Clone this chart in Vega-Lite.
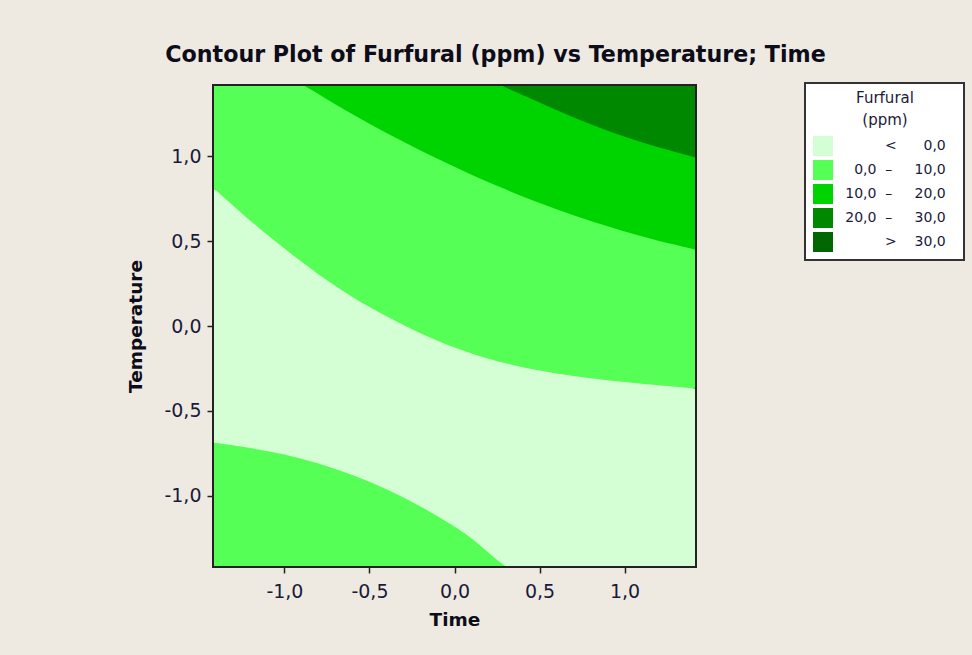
{
  "$schema": "https://vega.github.io/schema/vega-lite/v6.json",
  "width": 481,
  "height": 480,
  "autosize": {"type": "none"},
  "padding": {"left": 214, "top": 86, "right": 277, "bottom": 89},
  "background": "#efeae1",
  "title": {
    "text": "Contour Plot of Furfural (ppm) vs Temperature; Time",
    "font": "DejaVu Sans",
    "fontSize": 22.2,
    "fontWeight": "bold",
    "color": "#0d0d1a",
    "anchor": "middle",
    "frame": "group",
    "baseline": "alphabetic",
    "dx": 41,
    "offset": -2
  },
  "data": {
    "values": [
      {"region": "light", "level": "<0", "x": -1.414, "y": -1.414, "y2": 0.81},
      {"region": "light", "level": "<0", "x": -1.2, "y": -1.414, "y2": 0.617},
      {"region": "light", "level": "<0", "x": -1.0, "y": -1.414, "y2": 0.455},
      {"region": "light", "level": "<0", "x": -0.8, "y": -1.414, "y2": 0.302},
      {"region": "light", "level": "<0", "x": -0.6, "y": -1.414, "y2": 0.168},
      {"region": "light", "level": "<0", "x": -0.4, "y": -1.414, "y2": 0.055},
      {"region": "light", "level": "<0", "x": -0.2, "y": -1.414, "y2": -0.045},
      {"region": "light", "level": "<0", "x": 0.0, "y": -1.414, "y2": -0.13},
      {"region": "light", "level": "<0", "x": 0.2, "y": -1.414, "y2": -0.195},
      {"region": "light", "level": "<0", "x": 0.4, "y": -1.414, "y2": -0.245},
      {"region": "light", "level": "<0", "x": 0.6, "y": -1.414, "y2": -0.281},
      {"region": "light", "level": "<0", "x": 0.8, "y": -1.414, "y2": -0.308},
      {"region": "light", "level": "<0", "x": 1.0, "y": -1.414, "y2": -0.33},
      {"region": "light", "level": "<0", "x": 1.2, "y": -1.414, "y2": -0.349},
      {"region": "light", "level": "<0", "x": 1.414, "y": -1.414, "y2": -0.368},

      {"region": "upper", "level": "0-10", "x": -1.414, "y": 0.81, "y2": 1.414},
      {"region": "upper", "level": "0-10", "x": -1.2, "y": 0.617, "y2": 1.414},
      {"region": "upper", "level": "0-10", "x": -1.0, "y": 0.455, "y2": 1.414},
      {"region": "upper", "level": "0-10", "x": -0.8, "y": 0.302, "y2": 1.414},
      {"region": "upper", "level": "0-10", "x": -0.6, "y": 0.168, "y2": 1.414},
      {"region": "upper", "level": "0-10", "x": -0.4, "y": 0.055, "y2": 1.414},
      {"region": "upper", "level": "0-10", "x": -0.2, "y": -0.045, "y2": 1.414},
      {"region": "upper", "level": "0-10", "x": 0.0, "y": -0.13, "y2": 1.414},
      {"region": "upper", "level": "0-10", "x": 0.2, "y": -0.195, "y2": 1.414},
      {"region": "upper", "level": "0-10", "x": 0.4, "y": -0.245, "y2": 1.414},
      {"region": "upper", "level": "0-10", "x": 0.6, "y": -0.281, "y2": 1.414},
      {"region": "upper", "level": "0-10", "x": 0.8, "y": -0.308, "y2": 1.414},
      {"region": "upper", "level": "0-10", "x": 1.0, "y": -0.33, "y2": 1.414},
      {"region": "upper", "level": "0-10", "x": 1.2, "y": -0.349, "y2": 1.414},
      {"region": "upper", "level": "0-10", "x": 1.414, "y": -0.368, "y2": 1.414},

      {"region": "lowleft", "level": "0-10", "x": -1.414, "y": -1.414, "y2": -0.688},
      {"region": "lowleft", "level": "0-10", "x": -1.2, "y": -1.414, "y2": -0.718},
      {"region": "lowleft", "level": "0-10", "x": -1.0, "y": -1.414, "y2": -0.755},
      {"region": "lowleft", "level": "0-10", "x": -0.8, "y": -1.414, "y2": -0.808},
      {"region": "lowleft", "level": "0-10", "x": -0.6, "y": -1.414, "y2": -0.875},
      {"region": "lowleft", "level": "0-10", "x": -0.4, "y": -1.414, "y2": -0.958},
      {"region": "lowleft", "level": "0-10", "x": -0.2, "y": -1.414, "y2": -1.06},
      {"region": "lowleft", "level": "0-10", "x": 0.0, "y": -1.414, "y2": -1.18},
      {"region": "lowleft", "level": "0-10", "x": 0.1, "y": -1.414, "y2": -1.25},
      {"region": "lowleft", "level": "0-10", "x": 0.2, "y": -1.414, "y2": -1.335},
      {"region": "lowleft", "level": "0-10", "x": 0.25, "y": -1.414, "y2": -1.378},
      {"region": "lowleft", "level": "0-10", "x": 0.298, "y": -1.414, "y2": -1.414},

      {"region": "mid", "level": "10-20", "x": -0.88, "y": 1.414, "y2": 1.414},
      {"region": "mid", "level": "10-20", "x": -0.7, "y": 1.305, "y2": 1.414},
      {"region": "mid", "level": "10-20", "x": -0.5, "y": 1.191, "y2": 1.414},
      {"region": "mid", "level": "10-20", "x": -0.3, "y": 1.084, "y2": 1.414},
      {"region": "mid", "level": "10-20", "x": -0.1, "y": 0.984, "y2": 1.414},
      {"region": "mid", "level": "10-20", "x": 0.1, "y": 0.89, "y2": 1.414},
      {"region": "mid", "level": "10-20", "x": 0.3, "y": 0.804, "y2": 1.414},
      {"region": "mid", "level": "10-20", "x": 0.5, "y": 0.724, "y2": 1.414},
      {"region": "mid", "level": "10-20", "x": 0.7, "y": 0.652, "y2": 1.414},
      {"region": "mid", "level": "10-20", "x": 0.9, "y": 0.587, "y2": 1.414},
      {"region": "mid", "level": "10-20", "x": 1.1, "y": 0.528, "y2": 1.414},
      {"region": "mid", "level": "10-20", "x": 1.3, "y": 0.477, "y2": 1.414},
      {"region": "mid", "level": "10-20", "x": 1.414, "y": 0.451, "y2": 1.414},

      {"region": "dark", "level": "20-30", "x": 0.283, "y": 1.414, "y2": 1.414},
      {"region": "dark", "level": "20-30", "x": 0.47, "y": 1.33, "y2": 1.414},
      {"region": "dark", "level": "20-30", "x": 0.66, "y": 1.245, "y2": 1.414},
      {"region": "dark", "level": "20-30", "x": 0.85, "y": 1.168, "y2": 1.414},
      {"region": "dark", "level": "20-30", "x": 1.04, "y": 1.1, "y2": 1.414},
      {"region": "dark", "level": "20-30", "x": 1.24, "y": 1.04, "y2": 1.414},
      {"region": "dark", "level": "20-30", "x": 1.414, "y": 0.994, "y2": 1.414}
    ]
  },
  "encoding": {
    "x": {
      "field": "x",
      "type": "quantitative",
      "scale": {"domain": [-1.414, 1.414], "nice": false, "zero": false},
      "axis": {
        "title": "Time",
        "values": [-1, -0.5, 0, 0.5, 1],
        "labelExpr": "replace(replace(format(datum.value, '.1f'), '.', ','), '\u2212', '-')",
        "labelPadding": 9,
        "titlePadding": 9
      }
    },
    "y": {
      "field": "y",
      "type": "quantitative",
      "stack": null,
      "scale": {"domain": [-1.414, 1.414], "nice": false, "zero": false},
      "axis": {
        "title": "Temperature",
        "values": [-1, -0.5, 0, 0.5, 1],
        "labelExpr": "replace(replace(format(datum.value, '.1f'), '.', ','), '\u2212', '-')",
        "labelPadding": 6,
        "titlePadding": 18
      }
    },
    "y2": {"field": "y2"},
    "color": {
      "field": "level",
      "type": "nominal",
      "scale": {
        "domain": ["<0", "0-10", "10-20", "20-30", ">30"],
        "range": ["#d4ffd4", "#55ff55", "#00d400", "#008800", "#006600"]
      },
      "legend": {
        "title": ["Furfural", "(ppm)"],
        "orient": "none",
        "legendX": 591,
        "legendY": -3,
        "labelExpr": "datum.label == '<0' ? '<\u00a0\u00a0\u00a0\u00a0\u00a0\u00a00,0\u2800' : datum.label == '0-10' ? '0,0\u00a0\u00a0\u2013\u00a0\u00a0\u00a0\u00a0\u00a010,0\u2800' : datum.label == '10-20' ? '10,0\u00a0\u00a0\u2013\u00a0\u00a0\u00a0\u00a0\u00a020,0\u2800' : datum.label == '20-30' ? '20,0\u00a0\u00a0\u2013\u00a0\u00a0\u00a0\u00a0\u00a030,0\u2800' : '>\u00a0\u00a0\u00a0\u00a030,0\u2800'"
      }
    }
  },
  "layer": [
    {"transform": [{"filter": "datum.region === 'light'"}], "mark": {"type": "area", "interpolate": "basis", "clip": true, "opacity": 1}},
    {"transform": [{"filter": "datum.region === 'upper'"}], "mark": {"type": "area", "interpolate": "basis", "clip": true, "opacity": 1}},
    {"transform": [{"filter": "datum.region === 'lowleft'"}], "mark": {"type": "area", "interpolate": "basis", "clip": true, "opacity": 1}},
    {"transform": [{"filter": "datum.region === 'mid'"}], "mark": {"type": "area", "interpolate": "basis", "clip": true, "opacity": 1}},
    {"transform": [{"filter": "datum.region === 'dark'"}], "mark": {"type": "area", "interpolate": "basis", "clip": true, "opacity": 1}}
  ],
  "config": {
    "view": {"stroke": "#222222", "strokeWidth": 4},
    "axis": {
      "domain": false,
      "grid": false,
      "zindex": 1,
      "tickColor": "#222222",
      "tickWidth": 1.5,
      "tickSize": 7,
      "labelFont": "DejaVu Sans",
      "labelFontSize": 19,
      "labelColor": "#1a1a3a",
      "titleFont": "DejaVu Sans",
      "titleFontSize": 18.5,
      "titleFontWeight": "bold",
      "titleColor": "#0d0d1a"
    },
    "legend": {
      "fillColor": "#ffffff",
      "strokeColor": "#333333",
      "strokeWidth": 2,
      "padding": 8,
      "symbolType": "square",
      "symbolSize": 400,
      "symbolStrokeWidth": 0,
      "symbolOpacity": 1,
      "labelAlign": "right",
      "labelOffset": 123,
      "labelFont": "DejaVu Sans",
      "labelFontSize": 14,
      "labelColor": "#1a1a3a",
      "titleFont": "DejaVu Sans",
      "titleFontSize": 15,
      "titleFontWeight": "normal",
      "titleColor": "#1a1a3a",
      "titleAnchor": "middle",
      "titleLineHeight": 22,
      "titlePadding": 8,
      "rowPadding": 4
    }
  }
}
